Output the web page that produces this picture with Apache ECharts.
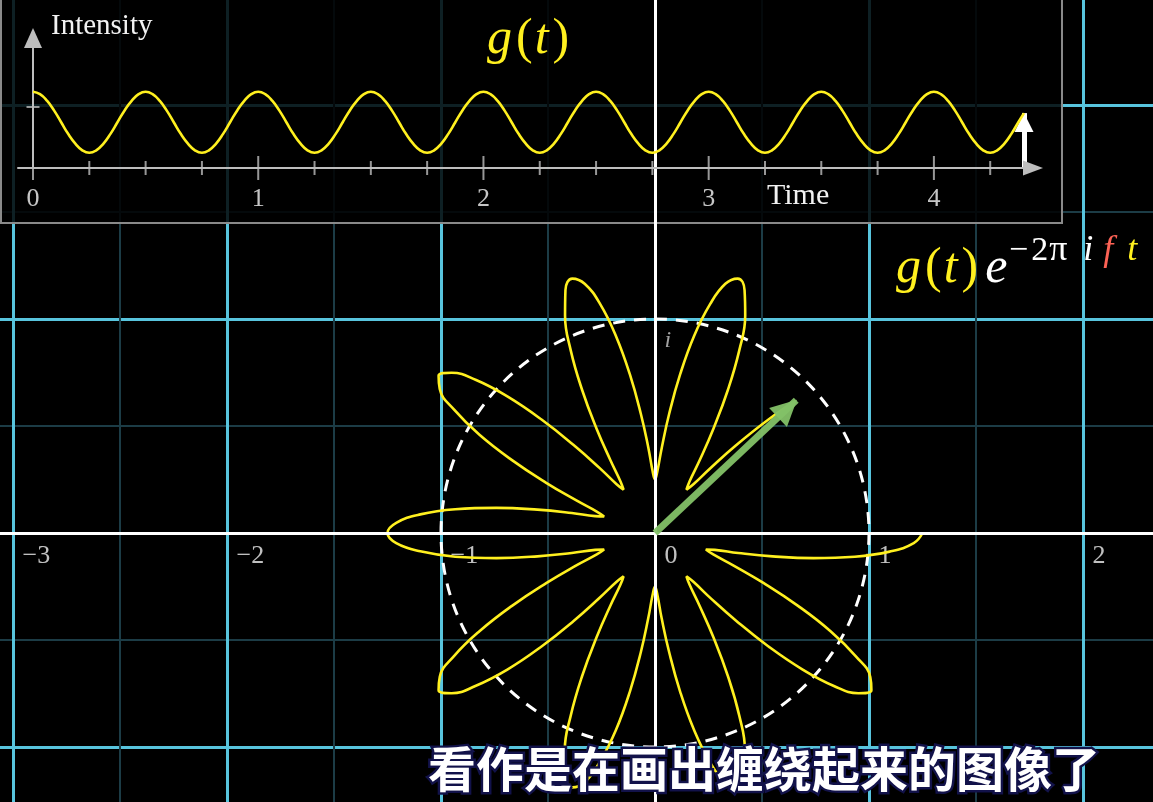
<!DOCTYPE html>
<html>
<head>
<meta charset="utf-8">
<style>html,body{margin:0;padding:0;background:#000;}#chart{width:1153px;height:802px;}</style>
<script src="https://cdn.jsdelivr.net/npm/echarts@6/dist/echarts.min.js"></script>
</head>
<body>
<div id="chart"></div>
<script>
// ---- data ----
const times = [
  0,0.031,0.063,0.094,0.125,0.156,0.188,0.219,0.25,0.281,0.313,0.344,0.375,0.406,0.438,0.469,
  0.5,0.531,0.563,0.594,0.625,0.656,0.688,0.719,0.75,0.781,0.813,0.844,0.875,0.906,0.938,0.969,
  1,1.031,1.063,1.094,1.125,1.156,1.188,1.219,1.25,1.281,1.313,1.344,1.375,1.406,1.438,1.469,
  1.5,1.531,1.563,1.594,1.625,1.656,1.688,1.719,1.75,1.781,1.813,1.844,1.875,1.906,1.938,1.969,
  2,2.031,2.063,2.094,2.125,2.156,2.188,2.219,2.25,2.281,2.313,2.344,2.375,2.406,2.438,2.469,
  2.5,2.531,2.563,2.594,2.625,2.656,2.688,2.719,2.75,2.781,2.813,2.844,2.875,2.906,2.938,2.969,
  3,3.031,3.063,3.094,3.125,3.156,3.188,3.219,3.25,3.281,3.313,3.344,3.375,3.406,3.438,3.469,
  3.5,3.531,3.563,3.594,3.625,3.656,3.688,3.719,3.75,3.781,3.813,3.844,3.875,3.906,3.938,3.969,
  4,4.031,4.063,4.094,4.125,4.156,4.188,4.219,4.25,4.281,4.313,4.344,4.375,4.4
];
const intensity = [
  1.25,1.21,1.10,0.94,0.75,0.56,0.40,0.29,0.25,0.29,0.40,0.56,0.75,0.94,1.10,1.21,
  1.25,1.21,1.10,0.94,0.75,0.56,0.40,0.29,0.25,0.29,0.40,0.56,0.75,0.94,1.10,1.21,
  1.25,1.21,1.10,0.94,0.75,0.56,0.40,0.29,0.25,0.29,0.40,0.56,0.75,0.94,1.10,1.21,
  1.25,1.21,1.10,0.94,0.75,0.56,0.40,0.29,0.25,0.29,0.40,0.56,0.75,0.94,1.10,1.21,
  1.25,1.21,1.10,0.94,0.75,0.56,0.40,0.29,0.25,0.29,0.40,0.56,0.75,0.94,1.10,1.21,
  1.25,1.21,1.10,0.94,0.75,0.56,0.40,0.29,0.25,0.29,0.40,0.56,0.75,0.94,1.10,1.21,
  1.25,1.21,1.10,0.94,0.75,0.56,0.40,0.29,0.25,0.29,0.40,0.56,0.75,0.94,1.10,1.21,
  1.25,1.21,1.10,0.94,0.75,0.56,0.40,0.29,0.25,0.29,0.40,0.56,0.75,0.94,1.10,1.21,
  1.25,1.21,1.10,0.94,0.75,0.56,0.40,0.29,0.25,0.29,0.40,0.56,0.75,0.90
];
const windingFreq = 0.2;              // cycles per unit of time (f)
const currentTime = 4.4;
const currentIntensity = 0.90;
const currentValue = [0.66, 0.62];    // g(t)e^{-2πift} at currentTime (complex plane)
const timeMajorTicks = [0, 1, 2, 3, 4];
const timeMinorTicks = [0.25,0.5,0.75,1.25,1.5,1.75,2.25,2.5,2.75,3.25,3.5,3.75,4.25];
const intensityTicks = [1];
const planeTicks = [-3, -2, -1, 0, 1, 2];
const planeTickLabels = ['\u22123', '\u22122', '\u22121', '0', '1', '2'];

// ---- chart ----
const YELLOW = '#FFF01F';
const CYAN = '#58C4DD';
const SERIF = 'Liberation Serif, DejaVu Serif, serif';
const hidden = { axisLine: { show: false }, axisTick: { show: false }, axisLabel: { show: false }, splitLine: { show: false } };

function tok(color, size, italic, pad) {
  return { color: color, fontSize: size, fontStyle: italic ? 'italic' : 'normal', fontWeight: 'normal',
    fontFamily: SERIF, padding: pad || 0 };
}

const chart = echarts.init(document.getElementById('chart'));

const wavePoints = times.map((t, i) => [t, intensity[i]]);
const windingPoints = times.map((t, i) => [intensity[i], t * 360 * windingFreq]);

const planeLabelData = planeTicks.map((v, i) => ({ value: [v, 0], name: planeTickLabels[i] }));
planeLabelData.push({ value: [0, 1], name: 'i', label: { fontStyle: 'italic', color: '#c8c8c8', fontSize: 24, position: [10, 10] } });

const option = {
  backgroundColor: '#000',
  animation: false,
  grid: [
    { left: -201, right: -144, top: -109, bottom: -159, outerBoundsMode: 'none', containLabel: false },
    { left: 18, right: 120, top: 38, bottom: 634, outerBoundsMode: 'none', containLabel: false }
  ],
  polar: [
    { center: [655, 533], radius: 321 },
    { center: [655, 533], radius: 214 }
  ],
  radiusAxis: [
    Object.assign({ polarIndex: 0, min: 0, max: 1.5 }, hidden),
    Object.assign({ polarIndex: 1, min: 0, max: 1, interval: 1, z: 1 }, hidden,
      { splitLine: { show: true, lineStyle: { color: '#ffffff', width: 3, type: [12, 9] } } })
  ],
  angleAxis: [
    Object.assign({ polarIndex: 0, type: 'value', min: 0, max: 360, startAngle: 0, clockwise: true }, hidden),
    Object.assign({ polarIndex: 1, type: 'value', min: 0, max: 360, startAngle: 0, clockwise: true }, hidden)
  ],
  xAxis: [
    {
      gridIndex: 0, type: 'value', min: -4, max: 3, interval: 1, z: 0,
      axisLine: { show: false }, axisTick: { show: false }, axisLabel: { show: false },
      splitLine: { show: true, lineStyle: { color: CYAN, width: 3 } },
      minorTick: { show: false, splitNumber: 2 },
      minorSplitLine: { show: true, lineStyle: { color: '#1c3c46', width: 2 } }
    },
    {
      gridIndex: 1, type: 'value', min: -0.0666, max: 4.44, z: 6,
      axisLine: { show: true, onZero: true, symbol: ['none', 'triangle'], symbolSize: [15, 20],
        lineStyle: { color: '#bdbdbd', width: 2 } },
      axisTick: { show: false }, axisLabel: { show: false }, splitLine: { show: false }
    }
  ],
  yAxis: [
    {
      gridIndex: 0, type: 'value', min: -2, max: 3, interval: 1, z: 0,
      axisLine: { show: false }, axisTick: { show: false }, axisLabel: { show: false },
      splitLine: { show: true, lineStyle: { color: CYAN, width: 3 } },
      minorTick: { show: false, splitNumber: 2 },
      minorSplitLine: { show: true, lineStyle: { color: '#1c3c46', width: 2 } }
    },
    {
      gridIndex: 1, type: 'value', min: 0, max: 2.131, z: 6,
      axisLine: { show: true, onZero: true, symbol: ['none', 'triangle'], symbolSize: [18, 20],
        lineStyle: { color: '#bdbdbd', width: 2 } },
      axisTick: { show: false }, axisLabel: { show: false }, splitLine: { show: false }
    }
  ],
  graphic: [
    { type: 'rect', z: 5, silent: true,
      shape: { x: 1, y: -5, width: 1061, height: 228 },
      style: { fill: 'rgba(0,0,0,0.84)', stroke: '#8a8a8a', lineWidth: 2 } }
  ],
  title: [
    { text: 'Intensity', left: 51, top: 12, padding: 0, z: 10,
      textStyle: { color: '#f2f2f2', fontSize: 29, fontWeight: 'normal', fontFamily: SERIF } },
    { text: 'Time', left: 767, top: 181, padding: 0, z: 10,
      textStyle: { color: '#f2f2f2', fontSize: 30, fontWeight: 'normal', fontFamily: SERIF } },
    { text: '{g|g}{o|(}{t|t}{c|)}', left: 487, top: 15, padding: 0, z: 10,
      textStyle: { fontWeight: 'normal', rich: {
        g: tok(YELLOW, 50, true, [0, 4, 0, 0]), o: tok(YELLOW, 50, false, [0, 2, 0, 0]),
        t: tok(YELLOW, 50, true, [0, 4, 0, 0]), c: tok(YELLOW, 50, false) } } },
    { text: '{g|g}{o|(}{t|t}{c|)}{e|e}', left: 896, top: 244, padding: 0, z: 10,
      textStyle: { fontWeight: 'normal', rich: {
        g: tok(YELLOW, 50, true, [0, 4, 0, 0]), o: tok(YELLOW, 50, false, [0, 2, 0, 0]),
        t: tok(YELLOW, 50, true, [0, 4, 0, 0]), c: tok(YELLOW, 50, false, [0, 7, 0, 0]),
        e: tok('#ffffff', 50, true) } } },
    { text: '{m|\u2212}{d|2}{p|\u03c0}{i|i}{f|f}{t|t}', left: 1009, top: 233, padding: 0, z: 10,
      textStyle: { fontWeight: 'normal', rich: {
        m: tok('#ffffff', 34, false, [0, 3, 0, 0]), d: tok('#ffffff', 34, false, [0, 1, 0, 0]),
        p: tok('#ffffff', 36, false, [0, 16, 0, 0]), i: tok('#ffffff', 36, true, [0, 10, 0, 0]),
        f: tok('#FC6255', 36, true, [0, 14, 0, 0]), t: tok(YELLOW, 36, true) } } },
    { text: '看作是在画出缠绕起来的图像了', left: 428, top: 745, padding: 0, z: 10,
      textStyle: { color: '#ffffff', fontSize: 48, fontWeight: 'bold', fontFamily: 'Noto Sans CJK SC',
        textBorderColor: '#12124a', textBorderWidth: 5 } }
  ],
  series: [
    {
      name: 'planeLabels', type: 'scatter', xAxisIndex: 0, yAxisIndex: 0, z: 1, silent: true,
      symbolSize: 1, itemStyle: { color: 'rgba(0,0,0,0)' },
      data: planeLabelData,
      label: { show: true, position: [10, 11], formatter: p => p.name, color: '#f0f0f0',
        fontSize: 26, fontFamily: SERIF, align: 'left', verticalAlign: 'top' },
      markLine: { silent: true, symbol: 'none', animation: false,
        label: { show: false },
        lineStyle: { color: '#ffffff', width: 3, type: 'solid' },
        data: [{ xAxis: 0 }, { yAxis: 0 }] }
    },
    {
      name: 'currentVector', type: 'scatter', xAxisIndex: 0, yAxisIndex: 0, z: 2, silent: true,
      data: [], symbolSize: 0,
      markLine: { silent: true, animation: false,
        symbol: ['none', 'triangle'], symbolSize: 26, symbolOffset: [[0, 0], [0, 12]],
        label: { show: false },
        lineStyle: { color: '#83C167', width: 7, type: 'solid', opacity: 0.95 },
        data: [[{ coord: [0, 0] }, { coord: currentValue }]] }
    },
    {
      name: 'winding', type: 'line', coordinateSystem: 'polar', polarIndex: 0, z: 3,
      data: windingPoints, smooth: 0.45, showSymbol: false, clip: false, silent: true,
      lineStyle: { color: YELLOW, width: 2.6 }
    },
    {
      name: 'g(t)', type: 'line', xAxisIndex: 1, yAxisIndex: 1, z: 7,
      data: wavePoints, smooth: 0.5, showSymbol: false, silent: true,
      lineStyle: { color: YELLOW, width: 2.6 },
      markLine: { silent: true, animation: false,
        symbol: ['none', 'triangle'], symbolSize: 19, symbolOffset: [[0, 0], [0, 9.5]],
        label: { show: false },
        lineStyle: { color: '#ffffff', width: 5, type: 'solid' },
        data: [[{ coord: [currentTime, 0] }, { coord: [currentTime, currentIntensity] }]] }
    },
    {
      name: 'minorTicks', type: 'scatter', xAxisIndex: 1, yAxisIndex: 1, z: 7, silent: true,
      symbol: 'rect', symbolSize: [2, 14], itemStyle: { color: '#bdbdbd' },
      data: timeMinorTicks.map(v => [v, 0])
    },
    {
      name: 'majorTicks', type: 'scatter', xAxisIndex: 1, yAxisIndex: 1, z: 7, silent: true,
      symbol: 'rect', symbolSize: [2, 24], itemStyle: { color: '#bdbdbd' },
      data: timeMajorTicks.map(v => [v, 0]),
      label: { show: true, position: 'bottom', distance: 6, formatter: p => String(p.value[0]),
        color: '#f8f8f8', fontSize: 26, fontFamily: SERIF }
    },
    {
      name: 'intensityTicks', type: 'scatter', xAxisIndex: 1, yAxisIndex: 1, z: 7, silent: true,
      symbol: 'rect', symbolSize: [13, 2], itemStyle: { color: '#bdbdbd' },
      data: intensityTicks.map(v => [0, v])
    }
  ]
};
chart.setOption(option);
</script>
</body>
</html>
